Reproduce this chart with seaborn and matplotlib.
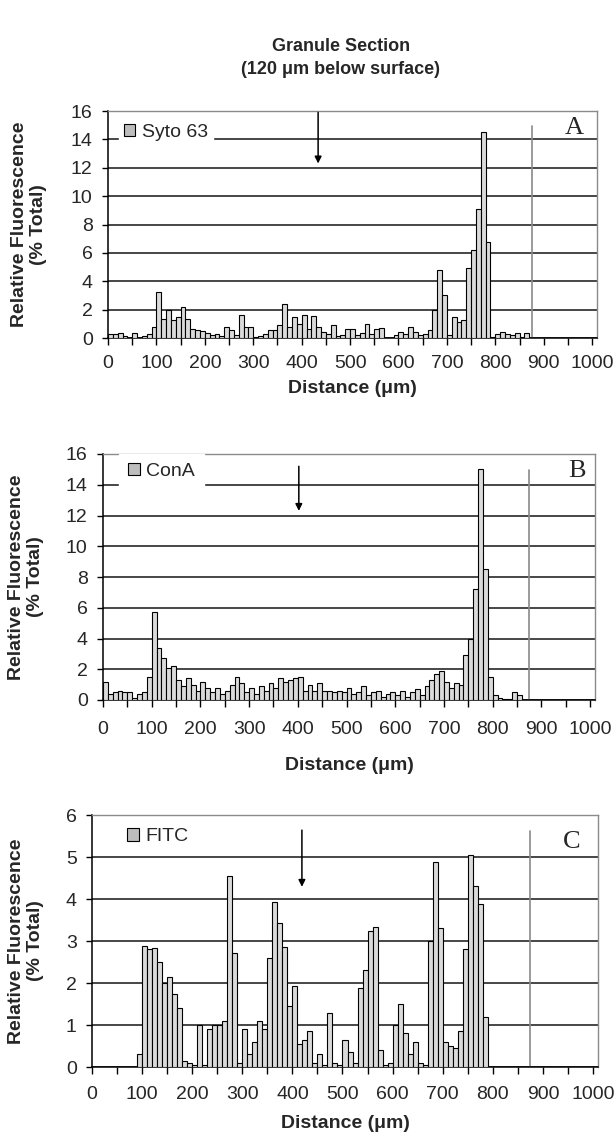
import matplotlib
matplotlib.use("Agg")
import matplotlib.pyplot as plt
import seaborn as sns
import pandas as pd
from matplotlib.patches import Patch

sns.set_theme(style="white")
plt.rcParams['font.family'] = ['Liberation Sans', 'DejaVu Sans']

# ---------------- data ----------------
bin_center_um = [5, 15, 25, 35, 45, 55, 65, 75, 85, 95,
                 105, 115, 125, 135, 145, 155, 165, 175, 185, 195,
                 205, 215, 225, 235, 245, 255, 265, 275, 285, 295,
                 305, 315, 325, 335, 345, 355, 365, 375, 385, 395,
                 405, 415, 425, 435, 445, 455, 465, 475, 485, 495,
                 505, 515, 525, 535, 545, 555, 565, 575, 585, 595,
                 605, 615, 625, 635, 645, 655, 665, 675, 685, 695,
                 705, 715, 725, 735, 745, 755, 765, 775, 785, 795,
                 805, 815, 825, 835, 845, 855, 865]

syto63 = [0.25, 0.25, 0.35, 0.15, 0.0, 0.35, 0.0, 0.15, 0.25, 0.75,
          3.25, 1.35, 2.0, 1.25, 1.45, 2.15, 1.35, 0.65, 0.55, 0.5,
          0.35, 0.2, 0.25, 0.15, 0.75, 0.55, 0.2, 1.65, 0.75, 0.75,
          0.1, 0.15, 0.25, 0.55, 0.55, 0.9, 2.4, 0.8, 1.45, 1.0,
          1.65, 0.65, 1.55, 0.75, 0.45, 0.3, 0.95, 0.15, 0.2, 0.65,
          0.6, 0.2, 0.35, 1.0, 0.3, 0.65, 0.7, 0.0, 0.0, 0.2,
          0.4, 0.3, 0.75, 0.4, 0.2, 0.3, 0.55, 2.0, 4.8, 3.05,
          0.2, 1.45, 1.15, 1.25, 4.9, 6.2, 9.1, 14.5, 6.75, 0.1,
          0.25, 0.45, 0.25, 0.2, 0.35, 0.05, 0.35]

cona = [1.2, 0.4, 0.5, 0.6, 0.5, 0.5, 0.1, 0.4, 0.5, 1.5,
        5.7, 3.4, 2.7, 2.1, 2.2, 1.3, 0.9, 1.4, 1.0, 0.6,
        1.2, 0.8, 0.5, 0.8, 0.4, 0.6, 1.0, 1.5, 1.1, 0.5,
        0.8, 0.4, 0.9, 0.6, 1.1, 0.8, 1.4, 1.2, 1.3, 1.4,
        1.5, 0.6, 1.0, 0.6, 1.1, 0.6, 0.6, 0.5, 0.6, 0.5,
        0.8, 0.4, 0.5, 0.9, 0.3, 0.5, 0.6, 0.2, 0.4, 0.5,
        0.3, 0.6, 0.2, 0.5, 0.7, 0.3, 0.9, 1.3, 1.7, 1.9,
        1.2, 0.8, 1.1, 1.0, 2.9, 4.0, 7.2, 15.0, 8.5, 1.5,
        0.3, 0.1, 0.05, 0.05, 0.5, 0.35, 0.0]

fitc = [0, 0, 0, 0, 0, 0, 0, 0, 0, 0.3,
        2.87, 2.82, 2.83, 2.5, 2.0, 2.15, 1.75, 1.4, 0.15, 0.1,
        0.05, 1.0, 0.05, 0.9, 1.0, 1.0, 1.1, 4.55, 2.72, 0.1,
        0.9, 0.3, 0.6, 1.1, 0.9, 2.6, 3.93, 3.42, 2.85, 1.45,
        1.92, 0.55, 0.65, 0.85, 0.1, 0.3, 0.05, 1.28, 0.1, 0.05,
        0.65, 0.35, 0.1, 1.88, 2.3, 3.25, 3.33, 0.4, 0.05, 0.1,
        1.0, 1.5, 0.8, 0.3, 0.6, 0.1, 0.05, 3.0, 4.89, 3.3,
        0.6, 0.5, 0.45, 0.85, 2.8, 5.05, 4.32, 3.88, 1.2, 0,
        0, 0, 0, 0, 0, 0, 0]

series_names = ["Syto 63", "ConA", "FITC"]
panel_letters = ["A", "B", "C"]
x_tick_labels = ["0", "100", "200", "300", "400", "500", "600", "700", "800", "900", "1000"]
title_text = "Granule Section\n(120 \u03bcm below surface)"
x_label = "Distance (\u03bcm)"
y_label = "Relative Fluorescence\n(% Total)"

# ---------------- figure ----------------
W, H = 616, 1141
fig = plt.figure(figsize=(W / 100, H / 100), dpi=100)


def rect(l, r, t, b):
    return [l / W, (H - b) / H, (r - l) / W, (b - t) / H]


panels = [
    dict(vals=syto63, rect=rect(108, 597, 111, 338), ymax=16, ystep=2,
         arrow=(434, 15.9, 12.3), letter=(962, 14.8),
         leg=(0.022, 0.907, 0.25), xlab_y=-0.185, ylab_x=-0.125, xpad=7),
    dict(vals=cona, rect=rect(103, 595, 454, 700), ymax=16, ystep=2,
         arrow=(402, 15.2, 12.3), letter=(972, 14.9),
         leg=(0.033, 0.93, 0.45), xlab_y=-0.23, ylab_x=-0.12, xpad=10),
    dict(vals=fitc, rect=rect(92, 598, 815, 1067), ymax=6, ystep=1,
         arrow=(419, 5.64, 4.29), letter=(958, 5.36),
         leg=(0.062, 0.913, 0.2), xlab_y=-0.19, ylab_x=-0.095, xpad=9),
]

for p, name, letter in zip(panels, series_names, panel_letters):
    ax = fig.add_axes(p["rect"])
    df = pd.DataFrame({"distance": bin_center_um, "value": p["vals"]})
    sns.barplot(data=df, x="distance", y="value", native_scale=True, width=1.0,
                color="#dadada", saturation=1, edgecolor="black", linewidth=0.8,
                errorbar=None, ax=ax, zorder=3)

    ax.set_xlim(0, 1010)
    ax.set_ylim(0, p["ymax"])
    ax.set_xticks(list(range(0, 1001, 100)))
    ax.set_xticklabels(x_tick_labels)
    ax.set_xticks(list(range(50, 1000, 100)), minor=True)
    ax.set_yticks(list(range(0, p["ymax"] + 1, p["ystep"])))

    ax.yaxis.grid(True, color="#151515", linewidth=1.1)
    ax.xaxis.grid(False)
    ax.set_axisbelow(True)

    for s in ["left", "bottom"]:
        ax.spines[s].set_color("black")
        ax.spines[s].set_linewidth(1.1)
    for s in ["top", "right"]:
        ax.spines[s].set_color("#8a8a8a")
        ax.spines[s].set_linewidth(1.0)

    ax.tick_params(axis="y", which="both", direction="out", length=4, width=1,
                   color="black", labelsize=14, pad=7, left=True)
    ax.tick_params(axis="x", which="both", direction="out", length=5, width=1,
                   color="black", labelsize=14, pad=p["xpad"], bottom=True)

    # gray vertical limit line
    ax.axvline(875, ymin=0, ymax=0.935, color="#8a8a8a", linewidth=1.2, zorder=2)

    # arrow
    ax_x, y0, y1 = p["arrow"]
    ax.annotate("", xy=(ax_x, y1), xytext=(ax_x, y0),
                arrowprops=dict(arrowstyle="-|>", color="black", lw=1.1,
                                mutation_scale=10, shrinkA=0, shrinkB=0))

    # panel letter
    lx, ly = p["letter"]
    ax.text(lx, ly, letter, family=["Liberation Serif", "DejaVu Serif"],
            fontsize=19, ha="center", va="center", zorder=6)

    # legend
    lgx, lgy, bpad = p["leg"]
    handle = Patch(facecolor="#bdbdbd", edgecolor="black", linewidth=0.8, label=name)
    leg = ax.legend(handles=[handle], loc="center left", bbox_to_anchor=(lgx, lgy),
                    frameon=True, fancybox=False, framealpha=1, facecolor="white",
                    edgecolor="white", fontsize=14, handlelength=0.6,
                    handleheight=0.6, handletextpad=0.35, borderpad=bpad,
                    borderaxespad=0)
    leg.set_zorder(7)

    ax.set_xlabel(x_label, fontweight="bold", fontsize=14)
    ax.set_ylabel(y_label, fontweight="bold", fontsize=14, linespacing=1.15)
    ax.xaxis.set_label_coords(0.5, p["xlab_y"])
    ax.yaxis.set_label_coords(p["ylab_x"], 0.5)

fig.text(0.553, 1 - 58 / H, title_text, ha="center", va="center",
         fontweight="bold", fontsize=13, linespacing=1.45)

fig.savefig("out.png", dpi=100, facecolor="white")
